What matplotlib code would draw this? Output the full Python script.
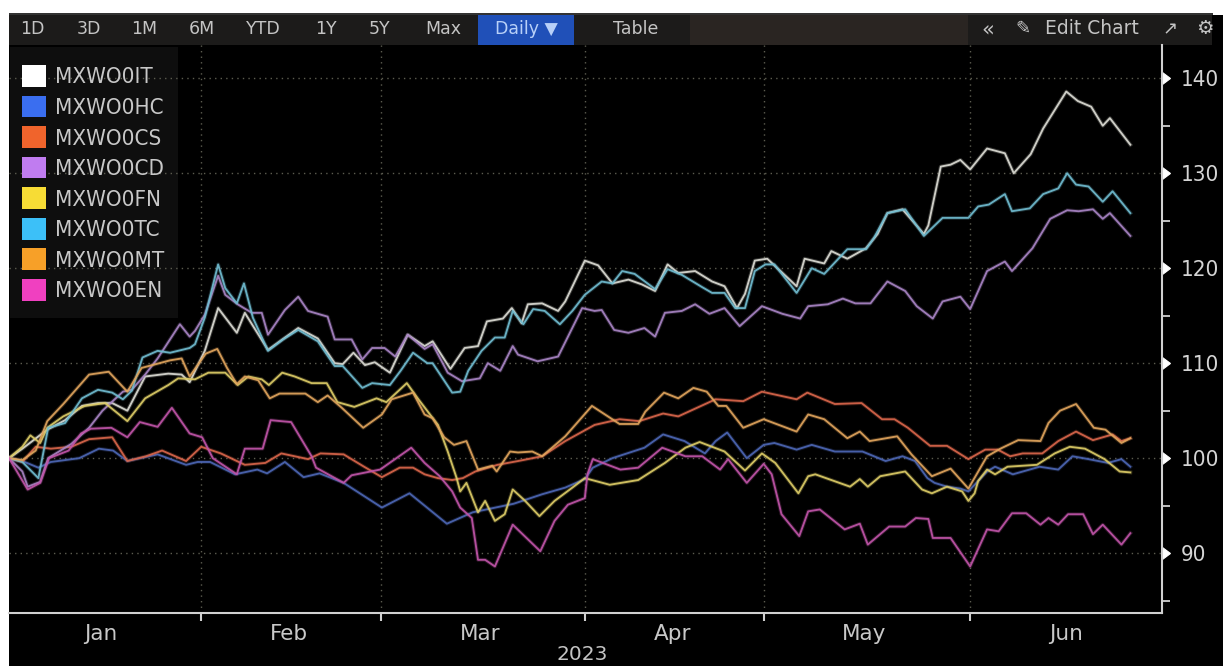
import matplotlib
matplotlib.use("Agg")
import matplotlib.pyplot as plt
import matplotlib.markers as mk
import matplotlib.patheffects as pe
from matplotlib.font_manager import FontProperties
from matplotlib.patches import Rectangle, Patch
from matplotlib.ticker import FixedLocator, NullFormatter

# (trading session counted from the first session of 2023, index level)
IT = [(0,100),(1.5,101),(4.3,103),(6.3,104),(8.2,105.5),(10,105.8),(11.6,105.8),(13.3,105),(15.3,108.6),(17.9,108.9),(19.4,108.8),(20.3,108),(22,111.3),(23.5,115.8),(25.6,113.2),(26.5,115.3),(29.1,111.4),(32.5,113.7),(34.7,112.6),(36.6,110),(37.5,109.9),(38.7,111.1),(40,109.8),(41.1,110.1),(42.8,109),(44.8,113),(46.7,111.8),(47.6,112.3),(49.6,109.4),(51.2,111.6),(52.7,111.8),(53.7,114.4),(55.5,114.7),(56.5,115.8),(57.6,114.2),(58.3,116.2),(59.9,116.3),(61.7,115.5),(62.5,116.5),(64.7,120.8),(66.2,120.3),(67.8,118.4),(69.6,118.8),(71.1,118.3),(72.6,117.6),(74,120.4),(75.2,119.5),(77.1,119.7),(79,118.6),(80.4,118.1),(81.8,115.8),(82.7,117.3),(83.8,120.8),(85.2,121),(88.5,118.1),(89.4,121),(91.6,120.5),(92.4,121.8),(94.2,121),(96.3,122.1),(97.6,123.6),(98.7,125.8),(100.4,126.2),(102.8,123.6),(103.3,124.5),(104.7,130.7),(105.8,130.9),(106.9,131.4),(108,130.4),(109.9,132.6),(111.9,132.1),(112.9,130),(114.8,132),(116.2,134.7),(118.8,138.6),(120.1,137.6),(121.6,137),(122.9,135),(123.7,135.8),(126,133)]
HC = [(0,100),(1.5,99.7),(3.3,99),(4.7,99.6),(7.9,100),(10.1,101),(11.7,100.8),(13.3,99.7),(16.7,100.4),(19.9,99.3),(21.2,99.6),(22.6,99.6),(25.4,98.3),(27.9,98.8),(29,98.4),(31,99.6),(33.1,98),(34.9,98.4),(37.6,97.4),(41.9,94.8),(45,96.3),(49.2,93.1),(52.1,94.3),(56.7,95.2),(59.9,96.2),(62.5,96.9),(64.7,97.8),(65.6,99),(67.8,100),(71.4,101.1),(73.5,102.5),(75.9,101.8),(78.2,100.5),(79.4,101.8),(80.7,102.7),(82.9,100),(84.8,101.4),(86,101.6),(88.5,100.9),(90.2,101.4),(92.8,100.7),(95.9,100.7),(98.5,99.7),(100.4,100.2),(101.8,99.7),(103.2,97.9),(104,97.4),(105.4,97),(106.9,96.8),(107.8,96.5),(108.9,97.6),(109.9,98.6),(110.8,99.1),(112.8,98.3),(115.8,99.1),(117.9,98.8),(119.5,100.2),(121.3,99.9),(123.5,99.5),(125,99.9),(126,99.1)]
CS = [(0,100),(1.5,99.6),(3,101.2),(4.7,101),(7,101.2),(9,102),(11.6,102.2),(13.3,99.7),(15.4,100.2),(17.2,100.8),(19.9,99.7),(21.6,101.2),(23.8,100.5),(26.5,99.3),(28.8,99.5),(30.6,100.5),(33.6,99.9),(35,100.5),(37.6,100.4),(39.9,99.1),(41.9,98),(43.9,99),(45.4,99),(46.7,98.3),(48.2,97.9),(49.8,97.7),(51,97.9),(52.4,98.6),(54.9,99.3),(57.2,99.7),(59.9,100.2),(62.5,101.8),(65.8,103.5),(68.6,104.1),(70.8,103.9),(73.5,104.7),(75.2,104.4),(79.4,106.2),(82.5,106),(84.6,107),(88.5,106.2),(89.7,106.9),(92.8,105.7),(95.8,105.8),(98.1,104.1),(99.5,104.1),(101,103.2),(103.5,101.3),(105.4,101.3),(107.8,99.9),(109.7,100.9),(111.1,100.9),(112.5,100.2),(113.9,100.5),(116.1,100.5),(117.9,101.8),(119.9,102.8),(121.8,101.9),(124,102.5),(125,101.8),(126,102.1)]
CD = [(0,100),(1.5,98.6),(2.1,97),(3.5,97.5),(4.4,100),(7,101.5),(9,103.2),(10.5,105),(12.8,107),(13.8,107.2),(15.3,108.8),(16.7,110.5),(19.2,114.1),(20.3,112.8),(20.9,113.4),(22,115.1),(23.5,119.2),(24.3,117.2),(25.7,116.2),(26.4,115.8),(27.3,115.3),(28.4,115.3),(29.1,113),(31,115.6),(32.5,117),(33.6,115.5),(35.8,114.9),(36.6,112.5),(38.5,112.5),(39.7,110.4),(40.8,111.6),(42.2,111.6),(43.4,110.7),(44.8,113),(46.7,111.5),(47.6,112),(49.3,109),(50.9,108.1),(52.9,108.4),(53.8,110),(55.2,109.2),(56.6,111.8),(57.2,110.9),(59.4,110.2),(61.7,110.7),(64.4,115.8),(65.8,115.5),(66.6,115.6),(68,113.5),(69.6,113.2),(71.4,113.7),(72.6,112.8),(73.7,115.3),(75.6,115.5),(77.1,116.2),(78.7,115.2),(80.4,115.8),(82.1,113.9),(84.6,116),(86.9,115.2),(88.9,114.7),(89.8,116),(92,116.2),(93.7,116.8),(95.1,116.3),(96.8,116.3),(98.7,118.6),(100.7,117.6),(102,116),(103.8,114.7),(104.9,116.5),(106.9,117),(108,115.7),(109.9,119.7),(111.9,120.7),(112.7,119.7),(115,122.1),(117,125.2),(118.9,126.1),(120.2,126),(121.8,126.2),(122.9,125.2),(123.7,125.8),(126,123.4)]
FN = [(0,100),(1.5,101.2),(2.4,102.4),(3.5,101.6),(4.3,103.2),(6.1,104.4),(8.5,105.5),(10.8,105.8),(13.3,103.9),(15.3,106.3),(17.9,107.7),(19,108.4),(20.9,108.3),(22.4,109),(24.3,109),(25.7,107.7),(26.9,108.6),(28.4,108.3),(29.2,107.7),(30.7,109),(32.1,108.6),(34,107.9),(35.7,107.9),(36.9,105.9),(38.8,105.4),(41.3,106.3),(42.4,105.9),(44.7,107.9),(46,106.2),(48.2,103.5),(49.3,100.7),(50.3,97.9),(50.7,96.5),(51.4,97.4),(52.7,94.3),(53.5,95.5),(54.6,93.4),(55.7,94.1),(56.6,96.7),(58,95.5),(59.6,93.9),(61.3,95.5),(63.3,96.9),(64.7,97.9),(67.5,97.2),(70.7,97.7),(73.7,99.5),(76,101.1),(77.6,101.7),(80.4,100.7),(82.7,98.7),(84.6,100.5),(86.1,99.5),(88.7,96.3),(89.8,98.1),(90.6,98.3),(94.5,97),(95.6,97.8),(96.5,97),(97.9,98.1),(100.7,98.6),(102.6,96.7),(103.7,96.3),(105.4,97),(107.1,96.5),(107.8,95.5),(108.5,96.3),(108.9,97.6),(109.9,98.8),(110.8,98.3),(112.2,99.1),(115.5,99.3),(117.5,100.5),(119.2,101.2),(120.9,101),(123.1,99.9),(124.8,98.6),(126,98.5)]
TC = [(0,100),(1.5,99.6),(3.3,97.9),(4.4,103.2),(6.3,103.7),(8.2,106.3),(10,107.2),(11.6,106.9),(12.8,106.2),(13.8,107.1),(15,110.6),(16.7,111.3),(18.1,111.1),(20.3,111.6),(20.9,112),(22,114.8),(23.5,120.4),(24.3,117.9),(25.6,116.3),(26.4,118.4),(27.4,114.8),(29.1,111.3),(30.8,112.5),(32.5,113.5),(34.7,112.3),(36.6,109.7),(37.5,109.7),(39.7,107.4),(40.8,107.9),(42.8,107.7),(44,109.2),(45.4,111.1),(47,110),(47.6,110),(49.8,106.9),(50.7,107),(51.6,109.2),(53.1,111.3),(54.6,112.7),(55.7,112.7),(56.6,115.5),(57.8,114.1),(58.9,115.7),(60.2,115.5),(61.9,114.1),(63.3,115.5),(64.7,117.2),(66.6,118.6),(67.8,118.4),(68.9,119.7),(70.3,119.4),(72.6,117.8),(74,119.9),(75.6,119.3),(77.9,118),(79,117.4),(80.4,117.4),(81.6,115.8),(82.7,115.8),(83.8,119.7),(85,120.4),(86,120.4),(88.5,117.4),(90.2,120),(91.6,119.4),(94.2,122),(96.3,122),(97.2,123.2),(98.7,125.8),(100.7,126.2),(102.8,123.4),(104.9,125.3),(107.8,125.3),(108.9,126.5),(110.1,126.7),(111.9,127.8),(112.7,126),(114.7,126.3),(116.2,127.8),(117.9,128.4),(118.9,130),(119.9,128.8),(121.3,128.6),(122.9,127),(124,128.1),(126,125.8)]
MT = [(0,100),(1.5,99.8),(3,100.8),(4.3,103.9),(6.1,105.7),(9,108.8),(11.2,109.1),(13.3,107),(14.9,109.5),(18.1,110.3),(19.4,110.5),(20.3,108.6),(22.1,111),(23.4,111.5),(24.5,109.5),(25.6,107.8),(26.5,108.6),(28,108.2),(29.3,106.3),(30.4,106.8),(33.3,106.8),(34.7,105.9),(35.8,106.6),(37.4,105.3),(39.8,103.2),(41.9,104.6),(43,106.2),(45.4,106.9),(46.7,104.6),(47.6,104.2),(48.9,102.2),(50,101.4),(51.4,101.8),(52.7,98.8),(54.3,99.2),(54.8,98.6),(56.3,100.7),(57.2,100.6),(58.8,100.7),(59.9,100.2),(62.5,102.3),(65.5,105.5),(68.6,103.6),(70.7,103.6),(71.5,104.9),(73.6,106.9),(75.2,106.3),(76.9,107.4),(78.4,107),(79.7,105.5),(80.6,105.5),(82.5,103.2),(84.8,104.1),(88.5,102.8),(89.8,104.6),(91.6,104.1),(94.2,102.1),(95.6,102.8),(96.7,101.8),(99.8,102.3),(101.4,100.4),(103.7,98.1),(105.8,98.9),(107.8,96.8),(109.9,100.2),(111.4,101),(113.4,101.9),(115.9,101.8),(116.8,103.7),(118.1,105),(119.9,105.7),(121.9,103.2),(123.2,103),(125,101.6),(126,102.1)]
EN = [(0,100),(2.1,96.7),(3.5,97.4),(4.5,100),(6.7,100.8),(8.1,102.6),(9.2,103.1),(11.5,103.2),(13.3,102.2),(14.7,103.8),(16.7,103.3),(18.3,105.3),(20.3,102.6),(21.7,102.2),(22.9,100),(25.6,98.3),(26.5,101),(28.5,101),(29.4,104),(31.7,103.8),(34,100.2),(34.5,99),(37.6,97.4),(38.5,98.2),(41.7,98.8),(45.2,101.1),(46.7,99.5),(48.4,98.1),(49.8,96.5),(50.7,94.8),(52,93.7),(52.7,89.3),(53.5,89.3),(54.6,88.6),(56.6,93),(59.7,90.2),(61.3,93.4),(62.8,95.1),(64.7,95.8),(65,98.3),(65.6,99.9),(68.7,98.8),(70.7,99),(73.4,101.1),(76,100.2),(77.9,100.2),(79.9,98.8),(80.8,99.9),(82.9,97.4),(84.8,99.4),(85.7,98.3),(86.8,94.1),(88.8,91.8),(89.8,94.4),(91.1,94.6),(93.9,92.5),(95.6,93.1),(96.5,90.9),(98.9,92.8),(100.7,92.8),(101.9,93.7),(103.3,93.6),(103.8,91.6),(105.8,91.6),(108,88.6),(109.9,92.5),(111.2,92.3),(112.7,94.2),(114.3,94.2),(115.9,93),(116.8,93.7),(117.9,93),(119,94.1),(120.7,94.1),(121.8,92),(122.9,93),(125,90.9),(126,92.1)]

names = ["MXWO0IT","MXWO0HC","MXWO0CS","MXWO0CD","MXWO0FN","MXWO0TC","MXWO0MT","MXWO0EN"]
series = [IT,HC,CS,CD,FN,TC,MT,EN]
swatch = ["#ffffff","#3a6ef0","#f0642c","#c07cf0","#f7dc35","#3cc0f8","#f7a028","#f040c0"]
line_col = ["#dcdcd4","#4c66b4","#d8654a","#a884c4","#dccb66","#70bcd0","#e0a45c","#c054a8"]

month_edges = [21.6,41.8,64.7,84.8,108]
month_centres = [10.3,31.5,52.9,74.6,96.1,118.8]
months = ["Jan","Feb","Mar","Apr","May","Jun"]
y_major = [90,100,110,120,130,140]
y_minor = [85,95,105,115,125,135]
buttons = ["1D","3D","1M","6M","YTD","1Y","5Y","Max"]
button_x = [32,89,144,202,263,326,380,443]

W,H = 1223,666
narrow = dict(family="DejaVu Sans",stretch="condensed")
fig = plt.figure(figsize=(W/100,H/100),dpi=100,facecolor="white")
def box(x0,y0,x1,y1,c,z=0):
    fig.add_artist(Rectangle((x0/W,1-y1/H),(x1-x0)/W,(y1-y0)/H,transform=fig.transFigure,fc=c,ec="none",zorder=z))
def label(x,y,s,**k):
    k.setdefault("color","#c4c4c4"); k.setdefault("fontsize",12.5)
    fig.text(x/W,1-y/H,s,ha="center",va="center",zorder=5,**k)

box(9,14,1223,666,"#000000",-5)
box(1213,0,1223,15,"white",-4)
box(9,13,1213,14.5,"#333333",-4)
box(9,15,1212,45,"#1c1b1a",-4)
box(690,15,968,45,"#2a2522",-3)
box(478,15,574,45,"#2050b8",-3)
box(10,47,178,318,"#0e0e0e",-3)
for x,s in zip(button_x,buttons): label(x,29,s)
label(526,29,"Daily ▼",color="#b8d0f8")
label(636,29,"Table")
label(988,29,"«",fontsize=15)
label(1023,29,"✎",fontsize=13)
label(1092,29,"Edit Chart",fontsize=13.5)
label(1170,29,"↗",fontsize=13)
label(1205,29,"⚙",fontsize=14)
label(582,654,"2023",fontsize=14.5)

ax = fig.add_axes([9/W,1-613/H,(1161.5-9)/W,(613-45)/H],facecolor="none")
ax.set_xlim(0,129.5); ax.set_ylim(83.7,143.5)
for n,s,c in zip(names,series,line_col):
    x,v = zip(*s)
    ax.plot(x,v,color=c,lw=1.35,alpha=.92,solid_joinstyle="round",label=n,
            path_effects=[pe.Stroke(linewidth=2.8,foreground=c,alpha=.22),pe.Normal()])
ax.grid(True,which="major",color="#5c5c50",ls=(0,(1,3)),lw=1)
ax.set_axisbelow(True)
for s in ["top","left"]: ax.spines[s].set_visible(False)
for s in ["bottom","right"]:
    ax.spines[s].set_color("#d0d0d0"); ax.spines[s].set_linewidth(1.5)

ax.xaxis.set_major_locator(FixedLocator(month_edges))
ax.xaxis.set_major_formatter(NullFormatter())
ax.xaxis.set_minor_locator(FixedLocator(month_centres))
ax.set_xticklabels(months,minor=True)
ax.tick_params(axis="x",which="major",length=6,width=1.5,color="#d0d0d0")
ax.tick_params(axis="x",which="minor",length=0,pad=8,labelsize=15.5,labelcolor="#c8c8c8")

ax.yaxis.tick_right()
ax.set_yticks(y_major); ax.set_yticks(y_minor,minor=True)
ax.set_yticklabels([str(v) for v in y_major])
ax.tick_params(axis="y",which="major",length=9,pad=5,labelsize=16,labelcolor="#d4d4d4",color="white")
ax.tick_params(axis="y",which="minor",length=6,width=1.3,color="#d0d0d0")
for t in ax.yaxis.get_major_ticks():
    t.tick2line.set_marker(mk.CARETRIGHTBASE)
    t.tick2line.set_markersize(8)
    t.tick2line.set_markerfacecolor("white")
    t.tick2line.set_markeredgecolor("white")
    t.label2.set_fontproperties(FontProperties(size=16,**narrow))

handles = [Patch(fc=c,ec="none",label=n) for c,n in zip(swatch,names)]
leg = ax.legend(handles=handles,loc="upper left",bbox_to_anchor=(22/W,1-65/H),bbox_transform=fig.transFigure,
    prop=FontProperties(size=16,**narrow),handlelength=1.07,handleheight=1.12,handletextpad=0.4,labelspacing=0.37,
    borderpad=0,borderaxespad=0,frameon=False)
for t in leg.get_texts(): t.set_color("#c8c8c8")
fig.savefig("out.png",dpi=100,facecolor="white")
